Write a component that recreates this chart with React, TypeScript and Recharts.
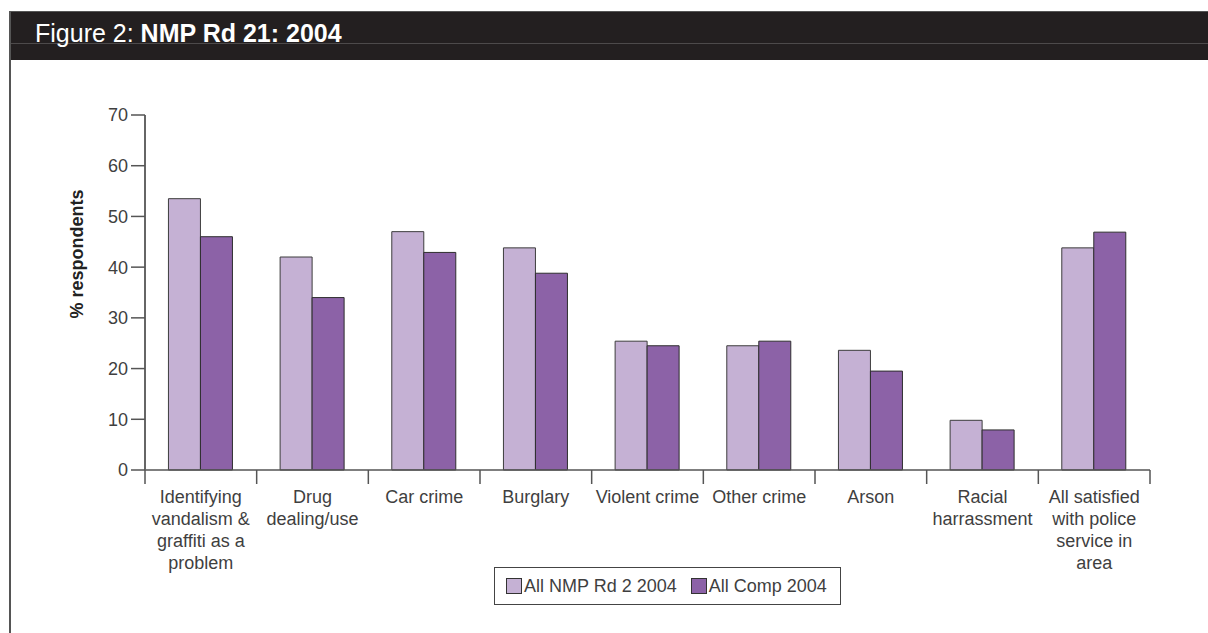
import { BarChart, Bar, XAxis, YAxis } from 'recharts';

const categories = [
  'Identifying\nvandalism &\ngraffiti as a\nproblem',
  'Drug\ndealing/use',
  'Car crime',
  'Burglary',
  'Violent crime',
  'Other crime',
  'Arson',
  'Racial\nharrassment',
  'All satisfied\nwith police\nservice in\narea',
];
const nmpValues = [53.5, 42, 47, 43.8, 25.4, 24.5, 23.6, 9.8, 43.8];
const compValues = [46, 34, 42.9, 38.8, 24.5, 25.4, 19.5, 7.9, 46.9];
const seriesNames = ['All NMP Rd 2 2004', 'All Comp 2004'];
const yTicks = [0, 10, 20, 30, 40, 50, 60, 70];

const W = 1208;
const H = 633;
const PLOT_LEFT = 145;
const PLOT_RIGHT = 1150;
const PLOT_TOP = 115;
const PLOT_BOTTOM = 470;
const X_AXIS_H = 110;
const TICK = 14;
const BAND = (PLOT_RIGHT - PLOT_LEFT) / categories.length;

const LIGHT = '#c5b1d4';
const DARK = '#8c62a7';
const FONT = '"Liberation Sans", Arial, Helvetica, sans-serif';

const data = categories.map((cat, i) => ({ cat, nmp: nmpValues[i], comp: compValues[i] }));

function CategoryTick(props: any) {
  const { x, y, payload } = props;
  const index = props.index ?? payload.index;
  const lines = String(payload.value).split('\n');
  const y0 = y - TICK;
  const half = BAND / 2;
  return (
    <g>
      <line x1={x - half} x2={x - half} y1={y0} y2={y0 + TICK} stroke="#555" strokeWidth={1.5} />
      {index === categories.length - 1 && (
        <line x1={x + half} x2={x + half} y1={y0} y2={y0 + TICK} stroke="#555" strokeWidth={1.5} />
      )}
      <text x={x} y={y} textAnchor="middle" fill="#3f3f3f" fontSize={18} fontFamily={FONT}>
        {lines.map((l, i) => (
          <tspan key={i} x={x} dy={i === 0 ? 19 : 22}>
            {l}
          </tspan>
        ))}
      </text>
    </g>
  );
}

export default function App() {
  return (
    <div
      style={{
        position: 'absolute',
        left: 0,
        top: 0,
        width: W,
        height: H,
        background: '#fff',
        fontFamily: FONT,
        overflow: 'hidden',
      }}
    >
      {/* header band */}
      <div
        style={{
          position: 'absolute',
          left: 9,
          top: 11,
          width: W - 9,
          height: 48,
          background: '#231f20',
          borderTop: '1px solid #555',
        }}
      />
      <div style={{ position: 'absolute', left: 9, top: 43, width: W - 9, height: 1, background: '#4d4a4b' }} />
      <div
        style={{
          position: 'absolute',
          left: 35,
          top: 19,
          color: '#fff',
          fontSize: 25,
          lineHeight: '28px',
          whiteSpace: 'nowrap',
        }}
      >
        Figure 2: <b>NMP Rd 21: 2004</b>
      </div>
      {/* left frame line */}
      <div style={{ position: 'absolute', left: 9, top: 11, width: 2, height: H - 11, background: '#555' }} />

      <div style={{ position: 'absolute', left: 0, top: 0 }}>
        <BarChart
          width={W}
          height={H}
          data={data}
          margin={{ top: PLOT_TOP, right: W - PLOT_RIGHT, left: 0, bottom: H - PLOT_BOTTOM - X_AXIS_H }}
          barGap={0}
          barCategoryGap="21%"
        >
          <XAxis
            dataKey="cat"
            interval={0}
            height={X_AXIS_H}
            tickLine={false}
            tickSize={TICK}
            tickMargin={0}
            axisLine={{ stroke: '#555', strokeWidth: 1.5 }}
            tick={<CategoryTick />}
          />
          <YAxis
            width={PLOT_LEFT}
            domain={[0, 70]}
            ticks={yTicks}
            interval={0}
            tickSize={TICK}
            tickMargin={3}
            axisLine={{ stroke: '#666', strokeWidth: 2 }}
            tickLine={{ stroke: '#555', strokeWidth: 1.5 }}
            tick={{ fill: '#3f3f3f', fontSize: 18, fontFamily: FONT }}
          />
          <Bar dataKey="nmp" name={seriesNames[0]} fill={LIGHT} stroke="#3d3d3d" strokeWidth={1} isAnimationActive={false} />
          <Bar dataKey="comp" name={seriesNames[1]} fill={DARK} stroke="#2e2e2e" strokeWidth={1} isAnimationActive={false} />
        </BarChart>
      </div>

      {/* y-axis title */}
      <div
        style={{
          position: 'absolute',
          left: 77,
          top: 254,
          transform: 'translate(-50%, -50%) rotate(-90deg)',
          fontSize: 18,
          fontWeight: 'bold',
          color: '#222',
          whiteSpace: 'nowrap',
        }}
      >
        % respondents
      </div>

      {/* legend */}
      <div
        style={{
          position: 'absolute',
          left: 494,
          top: 567,
          width: 347,
          height: 38,
          boxSizing: 'border-box',
          border: '1.5px solid #444',
          display: 'flex',
          alignItems: 'center',
          paddingLeft: 11,
          fontSize: 18,
          color: '#3f3f3f',
          whiteSpace: 'nowrap',
        }}
      >
        {seriesNames.map((name, i) => (
          <span key={name} style={{ display: 'flex', alignItems: 'center', marginRight: i === 0 ? 14 : 0 }}>
            <span
              style={{
                display: 'inline-block',
                width: 14,
                height: 14,
                background: i === 0 ? LIGHT : DARK,
                border: '1px solid #333',
                marginRight: 2,
              }}
            />
            {name}
          </span>
        ))}
      </div>
    </div>
  );
}
